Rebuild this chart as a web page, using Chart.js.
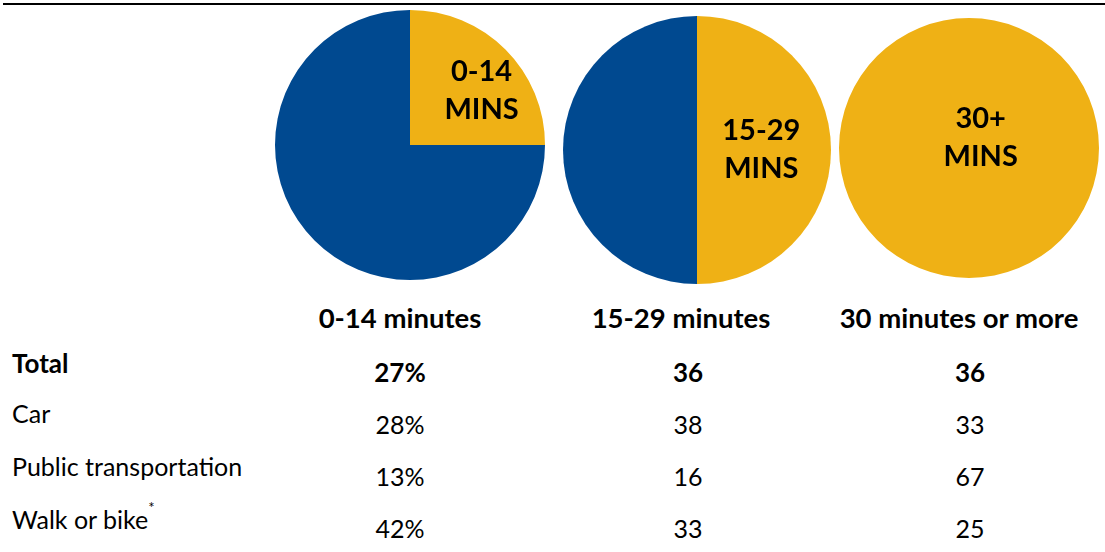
<!DOCTYPE html>
<html>
<head>
<meta charset="utf-8">
<script src="https://cdn.jsdelivr.net/npm/chart.js@4.4.1/dist/chart.umd.min.js"></script>
<style>
  html, body { margin:0; padding:0; background:#fff; }
  body { width:1105px; height:552px; position:relative; overflow:hidden; font-family:Lato, "Open Sans", sans-serif; color:#000; }
  .rule { position:absolute; left:3px; right:0; top:3px; height:2px; background:#000; }
  .pie { position:absolute; }
  .cell { position:absolute; height:30px; line-height:30px; white-space:nowrap; font-size:25px; }
  .cell.c { transform:translateX(-50%); }
  .cell.b { font-weight:700; font-size:26px; }
  .cell.h { font-weight:700; font-size:27.5px; }
  sup { font-size:15px; vertical-align:top; line-height:15px; position:relative; top:-4px; }
</style>
</head>
<body>
<div class="rule"></div>
<div class="pie" style="left:275px;top:10px;width:270px;height:270px;"><canvas id="pie0"></canvas></div>
<div class="pie" style="left:563px;top:16px;width:268px;height:268px;"><canvas id="pie1"></canvas></div>
<div class="pie" style="left:839px;top:18px;width:260px;height:260px;"><canvas id="pie2"></canvas></div>
<div id="table"></div>

<script>
// commute time buckets, shown as a slice of a 60-minute clock face
const bucketLabels  = ['0-14', '15-29', '30+'];
const clockMinutes  = [15, 30, 60];
const columnHeaders = ['0-14 minutes', '15-29 minutes', '30 minutes or more'];

const rowLabels   = ['Total', 'Car', 'Public transportation', 'Walk or bike'];
const shortTrip   = [27, 28, 13, 42];
const mediumTrip  = [36, 38, 16, 33];
const longTrip    = [36, 33, 67, 25];

const GOLD = '#EFB115';
const BLUE = '#004990';

// where the label sits, as a fraction of the radius from the pie centre
const labelOffsets = [[0.53, -0.40], [0.48, 0.0], [0.09, -0.08]];

const pieLabel = {
    id: 'pieLabel',
    afterDatasetsDraw(chart, args, opts) {
        const arc = chart.getDatasetMeta(0).data[0];
        if (!arc) return;
        const { x, y, outerRadius } = arc.getProps(['x', 'y', 'outerRadius'], true);
        const cx = x + opts.offset[0] * outerRadius;
        const cy = y + opts.offset[1] * outerRadius;
        const ctx = chart.ctx;
        ctx.save();
        ctx.fillStyle = '#000';
        ctx.font = '700 29px Lato, "Open Sans", sans-serif';
        ctx.textAlign = 'center';
        ctx.textBaseline = 'middle';
        ctx.fillText(opts.lines[0], cx, cy - 19);
        ctx.fillText(opts.lines[1], cx, cy + 19);
        ctx.restore();
    }
};

clockMinutes.forEach((mins, i) => {
    new Chart(document.getElementById('pie' + i), {
        type: 'pie',
        data: {
            labels: [columnHeaders[i], 'rest of hour'],
            datasets: [{
                data: [mins, 60 - mins],
                backgroundColor: [GOLD, BLUE],
                borderWidth: 0,
                hoverOffset: 0
            }]
        },
        options: {
            responsive: true,
            maintainAspectRatio: false,
            animation: false,
            layout: { padding: 0 },
            plugins: {
                legend: { display: false },
                tooltip: { enabled: false },
                pieLabel: { lines: [bucketLabels[i], 'MINS'], offset: labelOffsets[i] }
            }
        },
        plugins: [pieLabel]
    });
});

function renderTable() {
    const el = document.getElementById('table');
    const colX = [400, 688, 970];
    const headerX = [400, 681, 959];
    const labelY = [363, 413, 466, 519];
    const valueY = [372, 424, 476, 528];
    let html = '';
    columnHeaders.forEach((h, i) => {
        html += `<div class="cell c h" style="left:${headerX[i]}px;top:${318 - 15}px;">${h}</div>`;
    });
    rowLabels.forEach((label, r) => {
        const bold = r === 0 ? ' b' : '';
        const mark = label === 'Walk or bike' ? '<sup>*</sup>' : '';
        html += `<div class="cell${bold}" style="left:12px;top:${labelY[r] - 15}px;">${label}${mark}</div>`;
        [shortTrip[r] + '%', mediumTrip[r], longTrip[r]].forEach((v, c) => {
            html += `<div class="cell c${bold}" style="left:${colX[c]}px;top:${valueY[r] - 15}px;">${v}</div>`;
        });
    });
    el.innerHTML = html;
}
renderTable();
</script>
</body>
</html>
